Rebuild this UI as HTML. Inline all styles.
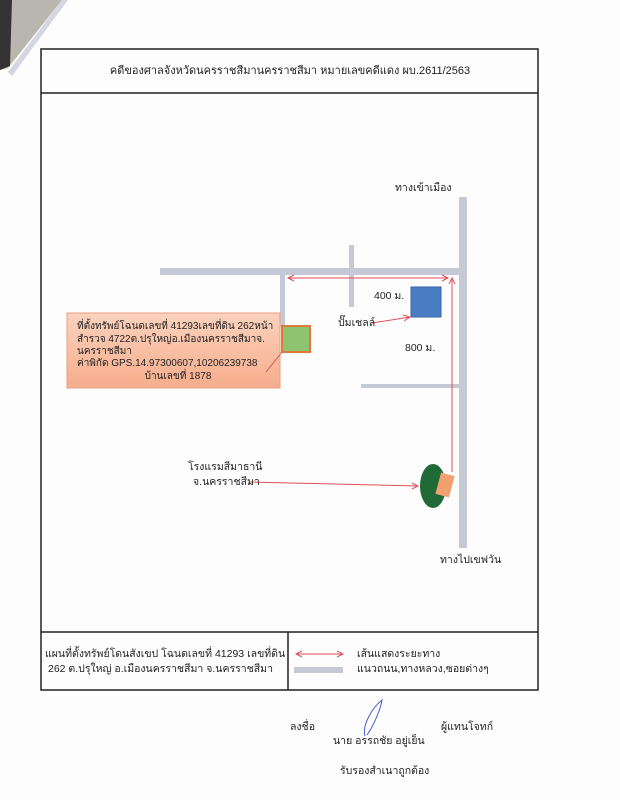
<!DOCTYPE html>
<html><head><meta charset="utf-8"><style>
body{margin:0;background:#fff}
svg{display:block}
text{font-family:"Liberation Sans","DejaVu Sans",sans-serif;fill:#222}
</style></head><body>
<svg width="620" height="800" viewBox="0 0 620 800" xmlns="http://www.w3.org/2000/svg">
<rect width="620" height="800" fill="#fdfdfd"/>
<polygon points="0,0 62,0 8,68 0,70" fill="#b8b6ae"/>
<polygon points="0,0 12,0 10,66 0,70" fill="#333"/>
<polygon points="62,0 68,0 12,76 8,72" fill="#d4d7e0"/>
<!-- frames -->
<rect x="41" y="49" width="497" height="641" fill="none" stroke="#222" stroke-width="1.5"/>
<line x1="41" y1="93" x2="538" y2="93" stroke="#222" stroke-width="1.5"/>
<line x1="41" y1="632" x2="538" y2="632" stroke="#222" stroke-width="1.5"/>
<line x1="288" y1="632" x2="288" y2="690" stroke="#222" stroke-width="1.5"/>
<text x="290" y="74" font-size="11" text-anchor="middle">คดีของศาลจังหวัดนครราชสีมานครราชสีมา หมายเลขคดีแดง ผบ.2611/2563</text>
<!-- roads -->
<g fill="#c5c9d6">
<rect x="459" y="197" width="8" height="351"/>
<rect x="160" y="268" width="300" height="7"/>
<rect x="349" y="245" width="5" height="62"/>
<rect x="280" y="275" width="5" height="52"/>
<rect x="361" y="384" width="99" height="4"/>
</g>
<!-- boxes -->
<rect x="411" y="287" width="30" height="30" fill="#4a7cc4" stroke="#3563a8"/>
<rect x="282" y="326" width="28" height="26" fill="#8ec46f" stroke="#e07a3a" stroke-width="2"/>
<defs><linearGradient id="og" x1="0" y1="0" x2="0" y2="1"><stop offset="0" stop-color="#fbd2bd"/><stop offset="1" stop-color="#f6ad8c"/></linearGradient></defs>
<rect x="67" y="313" width="213" height="75" fill="url(#og)" stroke="#e9a080"/>
<g font-size="10">
<text x="77" y="329">ที่ตั้งทรัพย์โฉนดเลขที่ 41293เลขที่ดิน 262หน้า</text>
<text x="77" y="342">สำรวจ 4722ต.ปรุใหญ่อ.เมืองนครราชสีมาจ.</text>
<text x="77" y="354">นครราชสีมา</text>
<text x="77" y="366">ค่าพิกัด GPS.14.97300607,10206239738</text>
<text x="178" y="379" text-anchor="middle">บ้านเลขที่ 1878</text>
</g>
<!-- arrows -->
<g stroke="#e0505a" stroke-width="1" fill="none">
<line x1="288" y1="278" x2="448" y2="278"/>
<polyline points="294,275 288,278 294,281"/>
<polyline points="442,275 448,278 442,281"/>
<line x1="452" y1="278" x2="452" y2="472"/>
<polyline points="449,284 452,278 455,284"/>
<line x1="372" y1="323" x2="410" y2="317"/>
<polyline points="403,315 410,317 404,321"/>
<line x1="266" y1="372" x2="282" y2="352"/>
<line x1="250" y1="482" x2="418" y2="486"/>
<polyline points="412,483 418,486 412,489"/>
</g>
<!-- tree/hotel -->
<ellipse cx="433" cy="486" rx="13" ry="22" fill="#1f6a36"/>
<rect x="438" y="474" width="14" height="22" fill="#f3a070" transform="rotate(15 445 485)"/>
<!-- labels -->
<g font-size="10.5">
<text x="395" y="191">ทางเข้าเมือง</text>
<text x="374" y="299">400 ม.</text>
<text x="338" y="326">ปั๊มเชลล์</text>
<text x="405" y="351">800 ม.</text>
<text x="188" y="470">โรงแรมสีมาธานี</text>
<text x="193" y="485">จ.นครราชสีมา</text>
<text x="440" y="563">ทางไปเขฟวัน</text>
<text x="45" y="657">แผนที่ตั้งทรัพย์โดนสังเขป โฉนดเลขที่ 41293 เลขที่ดิน</text>
<text x="48" y="672">262 ต.ปรุใหญ่ อ.เมืองนครราชสีมา จ.นครราชสีมา</text>
<text x="357" y="657">เส้นแสดงระยะทาง</text>
<text x="357" y="672">แนวถนน,ทางหลวง,ซอยต่างๆ</text>
<text x="290" y="730">ลงชื่อ</text>
<text x="441" y="730">ผู้แทนโจทก์</text>
<text x="333" y="744">นาย อรรถชัย  อยู่เย็น</text>
<text x="340" y="774">รับรองสำเนาถูกต้อง</text>
</g>
<g stroke="#e0505a" fill="none">
<line x1="296" y1="654" x2="343" y2="654"/>
<polyline points="302,651 296,654 302,657"/><polyline points="337,651 343,654 337,657"/>
</g>
<rect x="294" y="667" width="49" height="6" fill="#c5c9d6"/>
<path d="M365,736 C362,725 372,708 382,700 C380,712 372,728 367,735" stroke="#4a5fd0" fill="none" stroke-width="1"/>
</svg>
</body></html>
